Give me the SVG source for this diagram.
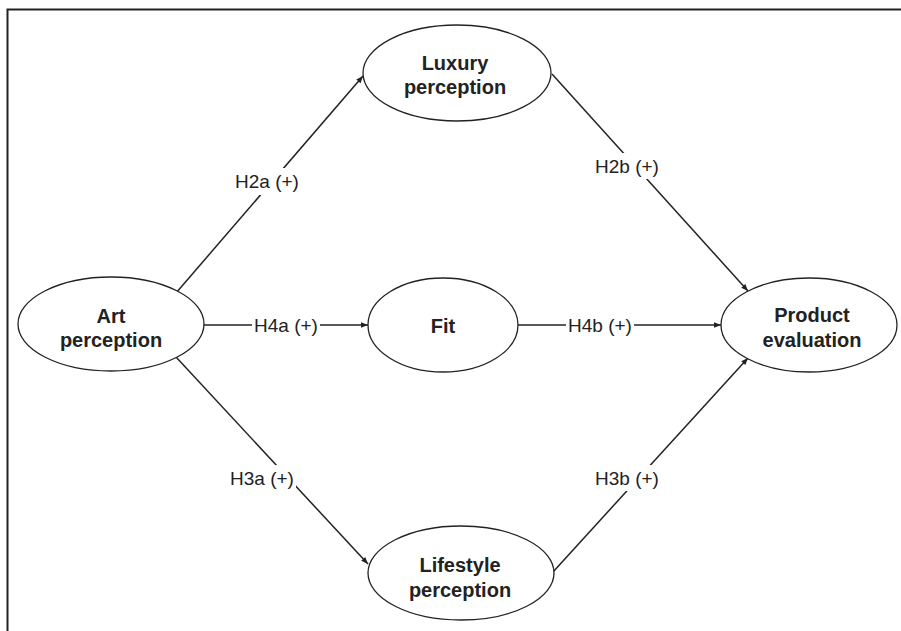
<svg xmlns="http://www.w3.org/2000/svg" width="901" height="631" viewBox="0 0 901 631">
<defs>
<marker id="arr" viewBox="0 0 10 10" refX="10" refY="5" markerWidth="9" markerHeight="7" markerUnits="userSpaceOnUse" orient="auto">
<path d="M0,1 L10,5 L0,9 Z" fill="#222"/>
</marker>
</defs>
<style>
.node ellipse{fill:#fff;stroke:#222;stroke-width:1.3}
.node text{font-family:"Liberation Sans",Arial,sans-serif;font-weight:bold;font-size:20px;fill:#222;text-anchor:middle}
.edge{stroke:#222;stroke-width:1.5;fill:none}
.lbl{font-family:"Liberation Sans",Arial,sans-serif;font-size:19px;fill:#222;text-anchor:middle}
.bg{fill:#fff}
</style>
<rect x="0" y="0" width="901" height="631" fill="#fff"/>
<path d="M7.5,640 L7.5,9.5 L905,9.5" fill="none" stroke="#222" stroke-width="2"/>
<g id="connectors">
<line class="edge" x1="176" y1="293" x2="363" y2="76" marker-end="url(#arr)"/>
<line class="edge" x1="552" y1="74" x2="748" y2="291" marker-end="url(#arr)"/>
<line class="edge" x1="204" y1="325" x2="368" y2="325" marker-end="url(#arr)"/>
<line class="edge" x1="518" y1="325" x2="721" y2="325" marker-end="url(#arr)"/>
<line class="edge" x1="176" y1="357" x2="368" y2="564" marker-end="url(#arr)"/>
<line class="edge" x1="553" y1="572" x2="748" y2="358" marker-end="url(#arr)"/>
<rect class="bg" x="233" y="168" width="68" height="27"/>
<text class="lbl" x="267" y="188">H2a (+)</text>
<rect class="bg" x="593" y="153" width="68" height="26"/>
<text class="lbl" x="627" y="173">H2b (+)</text>
<rect class="bg" x="252" y="312" width="68" height="26"/>
<text class="lbl" x="286" y="332">H4a (+)</text>
<rect class="bg" x="566" y="312" width="68" height="26"/>
<text class="lbl" x="600" y="332">H4b (+)</text>
<rect class="bg" x="228" y="465" width="68" height="26"/>
<text class="lbl" x="262" y="485">H3a (+)</text>
<rect class="bg" x="593" y="465" width="68" height="26"/>
<text class="lbl" x="627" y="485">H3b (+)</text>
</g>
<g id="art" class="node">
<ellipse cx="111" cy="324" rx="93" ry="47"/>
<text x="111" y="323">Art</text>
<text x="111" y="347">perception</text>
</g>
<g id="luxury" class="node">
<ellipse cx="457" cy="73" rx="94" ry="48"/>
<text x="455" y="70">Luxury</text>
<text x="455" y="94">perception</text>
</g>
<g id="fit" class="node">
<ellipse cx="443" cy="325" rx="75" ry="47"/>
<text x="443" y="333">Fit</text>
</g>
<g id="lifestyle" class="node">
<ellipse cx="461" cy="573" rx="93" ry="47"/>
<text x="460" y="572">Lifestyle</text>
<text x="460" y="597">perception</text>
</g>
<g id="product" class="node">
<ellipse cx="809" cy="325" rx="88" ry="47"/>
<text x="812" y="322">Product</text>
<text x="812" y="347">evaluation</text>
</g>
</svg>
